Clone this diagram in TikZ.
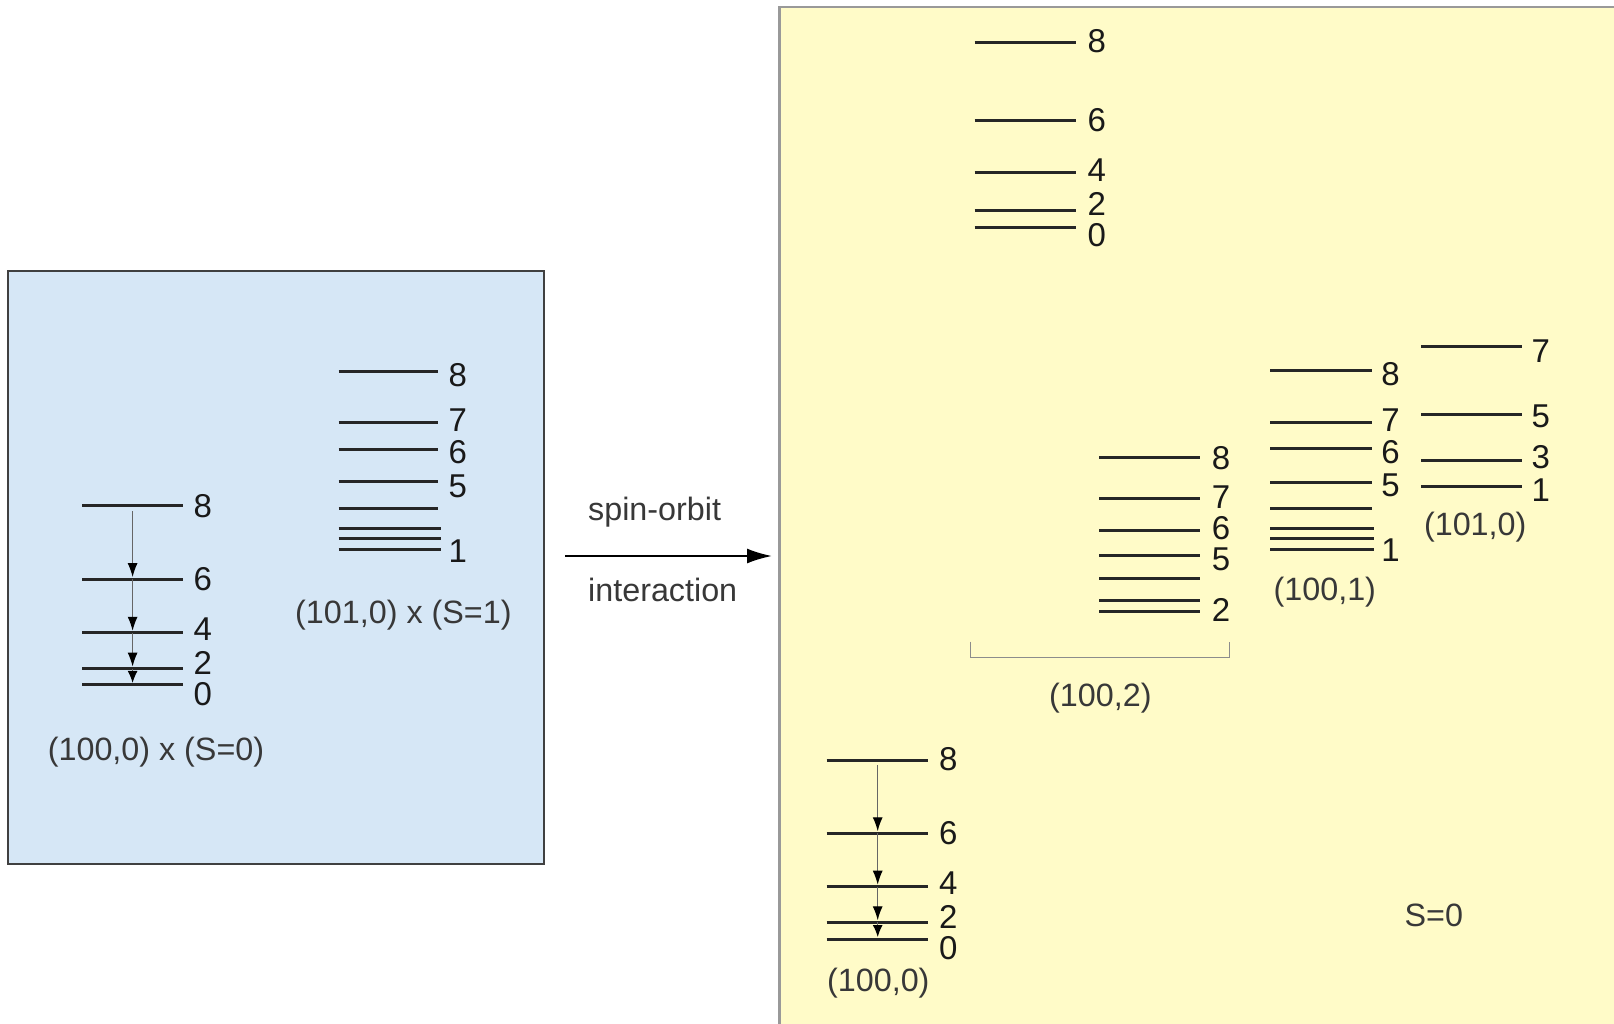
\documentclass[tikz,border=0pt]{standalone}
\usepackage{fontspec}
\setmainfont{Liberation Sans}
\usetikzlibrary{arrows.meta}
\definecolor{blueback}{RGB}{214,231,246}
\definecolor{yellowback}{RGB}{255,251,200}
\newcommand\elev[7]{\draw[lev] (#2,#4) -- (#3,#4);\node[num] (#1) at (#5,#6) {#7};}
\newcommand\eline[3]{\draw[lev] (#1,#3) -- (#2,#3);}
\begin{document}
\begin{tikzpicture}[x=1pt,y=-1pt,
  lev/.style={line width=3pt,draw=black!85},
  num/.style={font=\fontsize{33}{36}\selectfont,text=black!90,inner sep=0pt},
  lbl/.style={font=\fontsize{32.3}{36}\selectfont,text=black!78,inner sep=0pt},
  trans/.style={line width=1.2pt,draw=black!60,-{Latex[length=14pt,width=10pt,color=black]},shorten >=2pt},
  mainarrow/.style={line width=2pt,draw=black,-{Latex[length=25pt,width=15pt]}},
  bracket/.style={line width=1.6pt,draw=black!45},
  ]
\useasboundingbox (0,0) rectangle (1614,1023);
\fill[white] (0,0) rectangle (1614,1023);
% boxes
\draw[fill=blueback,draw=black!75,line width=2pt] (8,271) rectangle (544,864);
\draw[fill=yellowback,draw=black!40,line width=2.5pt] (779.5,7) rectangle (1650,1060);

% ---- left box, group A: (100,0) x (S=0)
\elev{a8}{82.4}{183.1}{505.9}{202.7}{505.9}{8}
\elev{a6}{82.4}{183.1}{579.1}{202.7}{579.1}{6}
\elev{a4}{82.4}{183.1}{632.8}{202.7}{629.6}{4}
\elev{a2}{82.4}{183.1}{668.6}{202.7}{662.7}{2}
\elev{a0}{82.4}{183.1}{684.9}{202.7}{693.9}{0}
\coordinate (A8) at (132.6,511);
\coordinate (A6) at (132.6,579.1);
\coordinate (A4) at (132.6,632.8);
\coordinate (A2) at (132.6,668.6);
\coordinate (A0) at (132.6,684.9);
\draw[trans] (A8) -- (A6);
\draw[trans] (A6) -- (A4);
\draw[trans] (A4) -- (A2);
\draw[trans,-{Latex[length=12pt,width=10pt,color=black]}] (A2) -- (A0);
\node[lbl] (la) at (156,752.2) {(100,0) x (S=0)};

% ---- left box, group B: (101,0) x (S=1)
\elev{b8}{338.5}{438.4}{371.7}{457.7}{374.8}{8}
\elev{b7}{338.5}{438.4}{422.6}{457.7}{420.3}{7}
\elev{b6}{338.5}{438.4}{449.1}{457.7}{451.7}{6}
\elev{b5}{338.5}{438.4}{481.8}{457.7}{486.5}{5}
\eline{338.5}{438.4}{508}
\eline{338.5}{441}{528.3}
\eline{338.5}{441}{538.5}
\elev{b1}{338.5}{441}{549.5}{457.7}{551}{1}
\node[lbl] (lb) at (403.4,614.9) {(101,0) x (S=1)};

% ---- spin-orbit arrow
\coordinate (arrS) at (565,556);
\coordinate (arrE) at (772,556);
\draw[mainarrow] (arrS) -- (arrE);
\node[lbl,anchor=base west] (so) at (588,520) {spin-orbit};
\node[lbl,anchor=base west] (ia) at (588,601.7) {interaction};

% ---- yellow box, top group
\elev{t8}{974.5}{1076}{42.7}{1096.7}{40.7}{8}
\elev{t6}{974.5}{1076}{120.7}{1096.7}{120.3}{6}
\elev{t4}{974.5}{1076}{172.7}{1096.7}{170}{4}
\elev{t2}{974.5}{1076}{210.7}{1096.7}{204}{2}
\elev{t0}{974.5}{1076}{227.7}{1096.7}{235}{0}

% ---- (100,2)
\elev{c8}{1099}{1200}{457.3}{1221}{458.3}{8}
\elev{c7}{1099}{1200}{498.3}{1221}{496.7}{7}
\elev{c6}{1099}{1200}{530.7}{1221}{528.3}{6}
\elev{c5}{1099}{1200}{555}{1221}{559.3}{5}
\eline{1099}{1200}{578.3}
\eline{1099}{1200}{600}
\elev{c2}{1099}{1200}{611.7}{1221}{610}{2}
\coordinate (brL) at (970.3,641.7);
\coordinate (brR) at (1229.5,641.7);
\draw[bracket] (brL) -- ++(0,15.6) -| (brR);
\node[lbl] (lc) at (1100.4,698.3) {(100,2)};

% ---- (100,1)
\elev{d8}{1270}{1371.5}{370.7}{1390.5}{374}{8}
\elev{d7}{1270}{1371.5}{422.7}{1390.5}{420}{7}
\elev{d6}{1270}{1371.5}{448.3}{1390.5}{451.7}{6}
\elev{d5}{1270}{1371.5}{482.3}{1390.5}{485}{5}
\eline{1270}{1371.5}{508}
\eline{1270}{1373.5}{528.3}
\eline{1270}{1373.5}{538.5}
\elev{d1}{1270}{1373.5}{549.5}{1390.5}{550}{1}
\node[lbl] (ld) at (1324.8,591.7) {(100,1)};

% ---- (101,0)
\elev{e7}{1421}{1521.8}{346.7}{1540.8}{350.7}{7}
\elev{e5}{1421}{1521.8}{414}{1540.8}{416}{5}
\elev{e3}{1421}{1521.8}{460.7}{1540.8}{456.7}{3}
\elev{e1}{1421}{1521.8}{486.7}{1540.8}{490}{1}
\node[lbl] (le) at (1475.2,526.7) {(101,0)};

% ---- (100,0) bottom
\elev{f8}{826.7}{928.3}{760}{948.3}{759.3}{8}
\elev{f6}{826.7}{928.3}{833.3}{948.3}{833.3}{6}
\elev{f4}{826.7}{928.3}{886.7}{948.3}{883.3}{4}
\elev{f2}{826.7}{928.3}{922.3}{948.3}{916.7}{2}
\elev{f0}{826.7}{928.3}{939}{948.3}{948.3}{0}
\coordinate (F8) at (877.7,765);
\coordinate (F6) at (877.7,833.3);
\coordinate (F4) at (877.7,886.7);
\coordinate (F2) at (877.7,922.3);
\coordinate (F0) at (877.7,939);
\draw[trans] (F8) -- (F6);
\draw[trans] (F6) -- (F4);
\draw[trans] (F4) -- (F2);
\draw[trans,-{Latex[length=12pt,width=10pt,color=black]}] (F2) -- (F0);
\node[lbl] (lf) at (878.3,983.3) {(100,0)};
\node[lbl] (s0) at (1433.8,915) {S=0};
\end{tikzpicture}
\end{document}
